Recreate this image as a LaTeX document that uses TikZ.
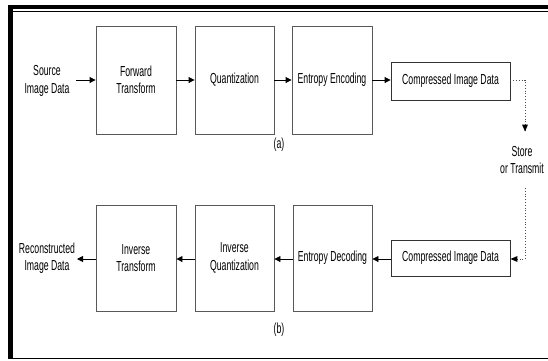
\documentclass[tikz,border=0pt]{standalone}
\usepackage{fontspec}
\setmainfont{Liberation Sans}[FakeStretch=0.6]
\usetikzlibrary{arrows.meta}
\begin{document}
\begin{tikzpicture}[x=1pt,y=-1pt,
  font=\fontsize{14.5}{17.5}\selectfont,
  blk/.style={draw=black!65, line width=0.9pt, minimum width=80pt, minimum height=108pt, inner sep=2pt, align=center, anchor=center},
  cbox/.style={draw=black!80, line width=0.9pt, minimum width=119pt, minimum height=38pt, inner sep=2pt, anchor=center},
  lbl/.style={align=center, inner sep=0pt},
  flow/.style={-{Triangle[length=6pt,width=6pt]}, line width=0.9pt},
  dotflow/.style={dotted, line width=0.8pt, draw=black!70}
]
\useasboundingbox (0,0) rectangle (548,360);
% frame
\fill (8,5) rectangle (548,9.3);
\fill (8,5) rectangle (12.7,359.4);
\draw[line width=1pt] (12.7,11.2) -- (548,11.2);
\draw[line width=1.2pt] (12,358.8) -- (548,358.8);
% top row
\node[lbl] (src) at (47,81) {Source\\Image Data};
\node[blk] (fwd) at (136,80) {Forward\\Transform};
\node[blk, minimum width=79pt] (qnt) at (234.5,80) {Quantization};
\node[blk] (enc) at (332,80) {Entropy Encoding};
\node[cbox] (cid1) at (450.5,81) {Compressed Image Data};
\node (la) at (279,145) {(a)};
\draw[flow] (76,80) -- (fwd.west |- 0,80);
\draw[flow] (fwd.east |- 0,80) -- (qnt.west |- 0,80);
\draw[flow] (qnt.east |- 0,80) -- (enc.west |- 0,80);
\draw[flow] (enc.east |- 0,80) -- (cid1.west |- 0,80);
% store
\coordinate (c1) at (525,80);
\coordinate (c2) at (525,131.5);
\node[lbl] (store) at (522,160) {Store\\or Transmit};
\coordinate (c3) at (525,188);
\coordinate (c4) at (525,259);
\draw[dotflow] (cid1.east |- 0,80) -- (c1) -- (c2);
\fill (c2) -- ++(-3,-7) -- ++(6,0) -- cycle;
\draw[dotflow] (c3) -- (c4) -- (513,259);
% bottom row
\node[lbl] (rec) at (47,258) {Reconstructed\\Image Data};
\node[blk, minimum height=106pt] (itr) at (136,258) {Inverse\\Transform};
\node[blk, minimum height=106pt, minimum width=79pt] (iqn) at (234.5,258) {Inverse\\Quantization};
\node[blk, minimum height=106pt, minimum width=79pt] (dec) at (332.5,258) {Entropy Decoding};
\node[cbox, minimum height=36pt] (cid2) at (450.5,258) {Compressed Image Data};
\node (lb) at (279,330) {(b)};
\fill (cid2.east |- 0,259) -- ++(7,-3) -- ++(0,6) -- cycle;
\draw[flow] (cid2.west |- 0,259) -- (dec.east |- 0,259);
\draw[flow] (dec.west |- 0,259) -- (iqn.east |- 0,259);
\draw[flow] (iqn.west |- 0,259) -- (itr.east |- 0,259);
\draw[flow] (itr.west |- 0,259) -- (77,259);
\end{tikzpicture}
\end{document}
